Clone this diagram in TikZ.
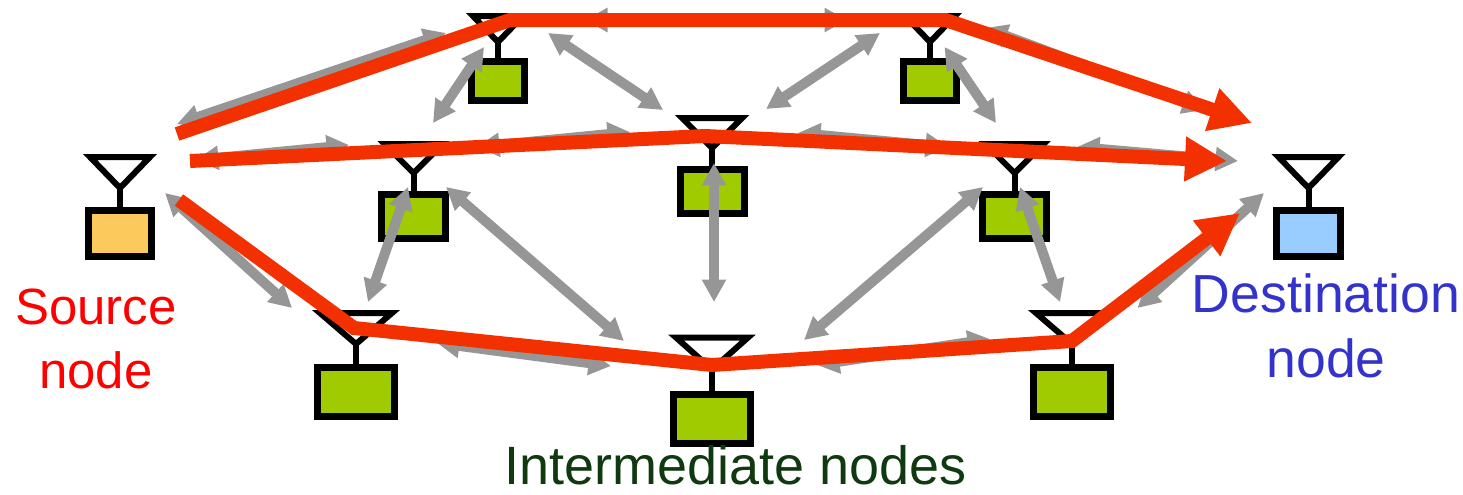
\documentclass[tikz,border=0pt]{standalone}
\usepackage{fontspec}
\setmainfont{Liberation Sans}
\usetikzlibrary{arrows.meta}

\definecolor{pathred}{HTML}{F33000}
\definecolor{linkgray}{HTML}{969696}
\definecolor{srcfill}{HTML}{FBC95C}
\definecolor{dstfill}{HTML}{99CCFF}
\definecolor{relayfill}{HTML}{9FCB00}

\tikzset{
  radio/.style={draw=black,line width=0.14cm,inner sep=0pt,minimum width=1.28cm,minimum height=0.88cm},
  radiosmall/.style={radio,minimum width=1.06cm,minimum height=0.78cm},
  radiobig/.style={radio,minimum width=1.54cm,minimum height=0.98cm},
  aerialline/.style={draw=black,line width=0.12cm,line join=miter},
  link/.style={draw=linkgray,line width=0.2cm,{Triangle[length=0.45cm,width=0.46cm]}-{Triangle[length=0.45cm,width=0.46cm]}},
  route/.style={draw=pathred,line width=0.28cm,-{Triangle[length=0.84cm,width=0.84cm]}},
  caption/.style={align=center,inner sep=0pt}
}

\newcommand{\aerial}[4]{
  \draw[aerialline] (#1.north) -- ++(0,-#2) coordinate (#1tip);
  \draw[aerialline] (#1tip) -- ++(-#3,-#4) -- ++(2*#3,0) -- cycle;
}

\begin{document}
\begin{tikzpicture}[x=0.02cm,y=-0.02cm]
  \useasboundingbox (0,0) rectangle (1463,494);

  \node[radio,fill=srcfill,minimum height=0.92cm] (src) at (120,233.5) {};
  \node[radio,fill=dstfill,minimum height=0.92cm] (dst) at (1308.5,233.5) {};
  \node[radiosmall,fill=relayfill] (topl) at (498,81) {};
  \node[radiosmall,fill=relayfill] (topr) at (930,81) {};
  \node[radio,fill=relayfill] (midl) at (413.5,216.5) {};
  \node[radio,fill=relayfill] (midc) at (712,191.5) {};
  \node[radio,fill=relayfill] (midr) at (1014.5,216.5) {};
  \node[radiobig,fill=relayfill] (lowl) at (356,392) {};
  \node[radiobig,fill=relayfill] (lowc) at (712,418.5) {};
  \node[radiobig,fill=relayfill] (lowr) at (1072,392) {};

  \aerial{src}{19}{30}{31}
  \aerial{dst}{19}{30}{31}
  \aerial{topl}{16}{25}{26}
  \aerial{topr}{16}{25}{26}
  \aerial{midl}{18}{29}{29}
  \aerial{midc}{18}{30}{30}
  \aerial{midr}{18}{29}{29}
  \aerial{lowl}{20}{36}{31}
  \aerial{lowc}{21}{36}{32}
  \aerial{lowr}{20}{36}{31}

  \coordinate (l1a) at (177,124);   \coordinate (l1b) at (446,33);
  \coordinate (l2a) at (484,47);    \coordinate (l2b) at (433,123);
  \coordinate (l3a) at (548,33);    \coordinate (l3b) at (663,110);
  \coordinate (l4a) at (880,33);    \coordinate (l4b) at (766,109);
  \coordinate (l5a) at (944.5,47);  \coordinate (l5b) at (996,123);
  \coordinate (l6a) at (585,20);    \coordinate (l6b) at (847,20);
  \coordinate (l7a) at (985,28);    \coordinate (l7b) at (1205,110);
  \coordinate (l8a) at (196,160);   \coordinate (l8b) at (349,145);
  \coordinate (l9a) at (477,147);   \coordinate (l9b) at (630,132);
  \coordinate (l10a) at (798,133);  \coordinate (l10b) at (948,147);
  \coordinate (l11a) at (1077,147); \coordinate (l11b) at (1238,161);
  \coordinate (l12a) at (408,187);  \coordinate (l12b) at (368,302);
  \coordinate (l13a) at (446,187);  \coordinate (l13b) at (624,341);
  \coordinate (l14a) at (714,163);  \coordinate (l14b) at (714,302);
  \coordinate (l15a) at (983,187);  \coordinate (l15b) at (804,340);
  \coordinate (l16a) at (1020,187); \coordinate (l16b) at (1060,302);
  \coordinate (l17a) at (165,193);  \coordinate (l17b) at (292,308);
  \coordinate (l18a) at (437,343);  \coordinate (l18b) at (611,366);
  \coordinate (l19a) at (817,365);  \coordinate (l19b) at (990,339);
  \coordinate (l20a) at (1137.5,308); \coordinate (l20b) at (1264,193);

  \draw[link] (l1a) -- (l1b);
  \draw[link] (l2a) -- (l2b);
  \draw[link] (l3a) -- (l3b);
  \draw[link] (l4a) -- (l4b);
  \draw[link] (l5a) -- (l5b);
  \draw[link] (l6a) -- (l6b);
  \draw[link] (l7a) -- (l7b);
  \draw[link] (l8a) -- (l8b);
  \draw[link] (l9a) -- (l9b);
  \draw[link] (l10a) -- (l10b);
  \draw[link] (l11a) -- (l11b);
  \draw[link] (l12a) -- (l12b);
  \draw[link] (l13a) -- (l13b);
  \draw[link] (l14a) -- (l14b);
  \draw[link] (l15a) -- (l15b);
  \draw[link] (l16a) -- (l16b);
  \draw[link] (l17a) -- (l17b);
  \draw[link] (l18a) -- (l18b);
  \draw[link] (l19a) -- (l19b);
  \draw[link] (l20a) -- (l20b);

  \coordinate (r1a) at (177,134);
  \coordinate (r1b) at (510,20);
  \coordinate (r1c) at (945.5,20);
  \coordinate (r1d) at (1252,123);
  \coordinate (r2a) at (190,161);
  \coordinate (r2b) at (705,136);
  \coordinate (r2c) at (1227,161);
  \coordinate (r3a) at (179,200);
  \coordinate (r3b) at (354,328);
  \coordinate (r3c) at (712,365);
  \coordinate (r3d) at (1072,341);
  \coordinate (r3e) at (1240,213);

  \draw[route] (r1a) -- (r1b) -- (r1c) -- (r1d);
  \draw[route] (r2a) -- (r2b) -- (r2c);
  \draw[route] (r3a) -- (r3b) -- (r3c) -- (r3d) -- (r3e);

  \node[caption,text=red,font=\fontsize{29}{36.8}\selectfont] (srclabel) at (96,339) {Source\\node};
  \node[caption,text={rgb,255:red,51;green,51;blue,204},font=\fontsize{30.5}{37}\selectfont] (dstlabel) at (1326,326) {Destination\\node};
  \node[caption,text={rgb,255:red,15;green,58;blue,15},font=\fontsize{30.7}{37}\selectfont,anchor=base] (relaylabel) at (735.5,484) {Intermediate nodes};
\end{tikzpicture}
\end{document}
